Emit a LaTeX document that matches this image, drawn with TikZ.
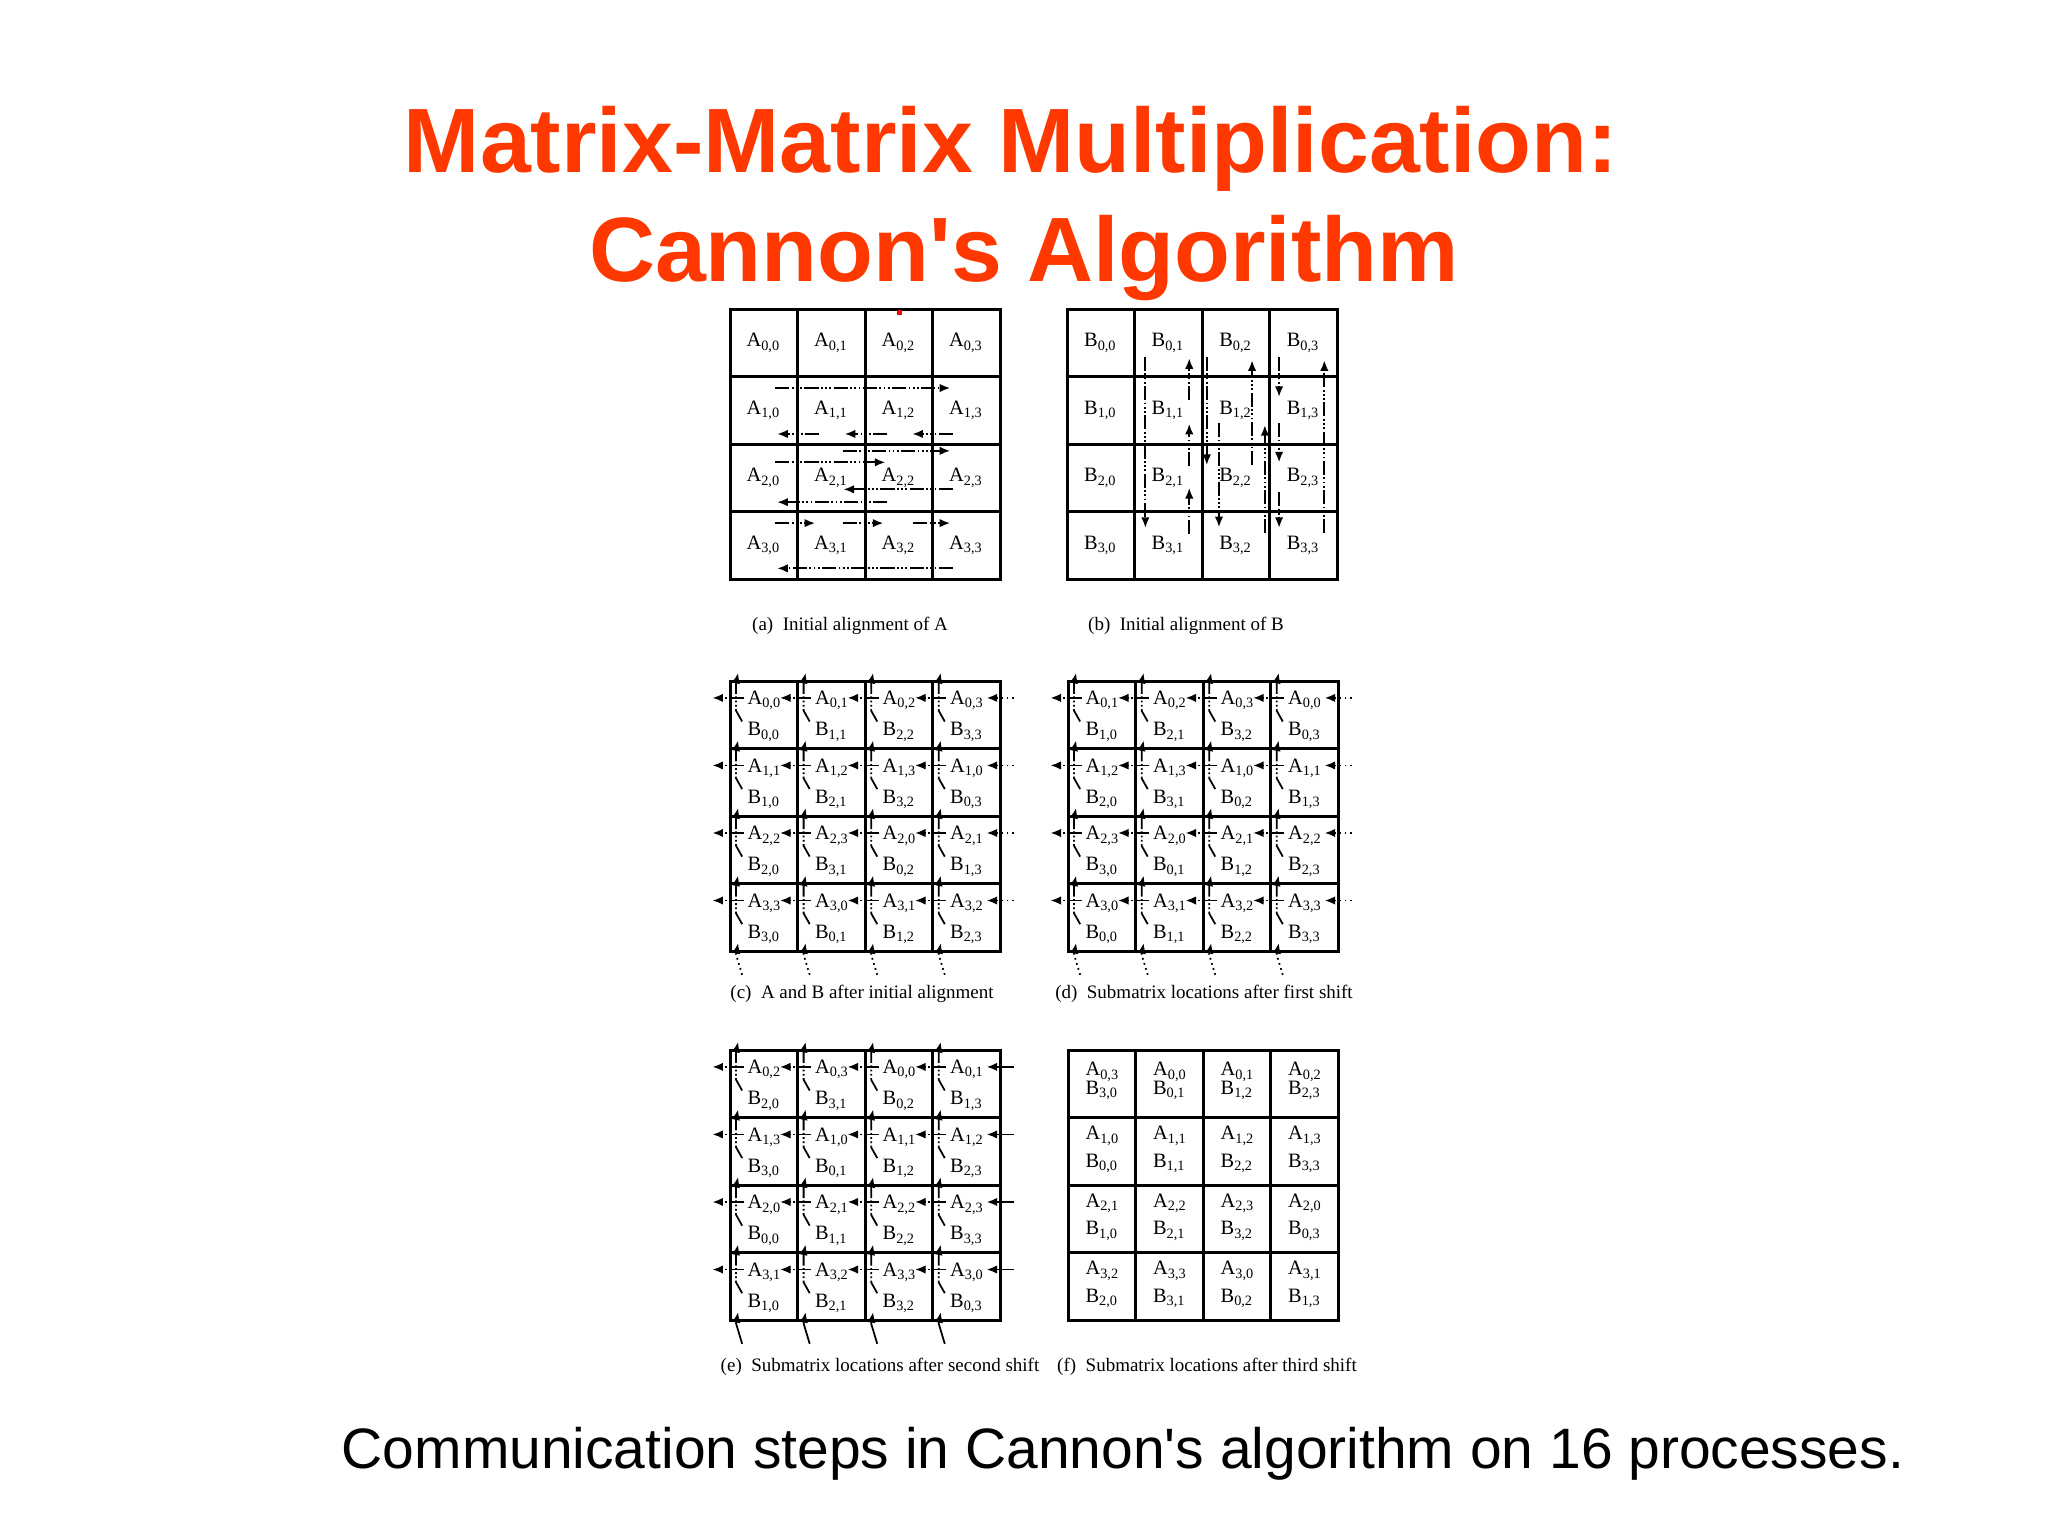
\documentclass[tikz,border=0pt]{standalone}
\usepackage{fontspec}
\setmainfont{Liberation Serif}
\newfontfamily\slidefont{Liberation Sans}
\usetikzlibrary{arrows.meta}

\definecolor{titlered}{RGB}{255,56,0}

\tikzset{
  >={Latex[length=3pt,width=2.4pt]},
  gridline/.style={line width=0.85pt},
  lbl/.style={inner sep=0pt, font=\fontsize{5.8}{7}\selectfont},
  subcap/.style={anchor=base, inner sep=0pt, font=\fontsize{5.4}{6.5}\selectfont},
  shiftarr/.style={->, line width=0.5pt, dash pattern=on 4pt off 0.7pt on 0.5pt off 0.7pt on 0.5pt off 0.7pt on 0.5pt off 0.7pt},
  wrapin/.style={->, line width=0.5pt, densely dotted},
  wrapsolid/.style={->, line width=0.5pt},
}

% 4x4 block grid, one cell = one unit
\newcommand{\blockgrid}{%
  \draw[gridline] (0,0) rectangle (4,4);
  \foreach \k in {1,2,3} {
    \draw[gridline] (\k,0) -- (\k,4);
    \draw[gridline] (0,\k) -- (4,\k);
  }}

% blocks of A and B after #2 shifts, with the next shift drawn
% #3 = style of the wrap-around lines
\newcommand{\shiftpanel}[3]{%
  \blockgrid
  \foreach \i in {0,...,3}
    \foreach \j in {0,...,3} {
      \pgfmathtruncatemacro\k{mod(\i+\j+#2,4)}
      \node[lbl, anchor=west] (#1-a-\i-\j) at (\j+0.25,\i+0.29) {A\textsubscript{\i,\k}};
      \node[lbl, anchor=west] (#1-b-\i-\j) at (\j+0.25,\i+0.75) {B\textsubscript{\k,\j}};
      \draw[shiftarr] (\j+0.2,\i+0.25) -- (\j-0.26,\i+0.25);
      \draw[shiftarr] (\j+0.18,\i+0.6) -- (\j+0.09,\i+0.44) -- (\j+0.09,\i+0.02) -- (\j+0.12,\i-0.12);
    }
  \foreach \k in {0,...,3} {
    \draw[#3] (4.2,\k+0.25) -- (3.8,\k+0.25);
    \draw[#3] (\k+0.18,4.35) -- (\k+0.09,4.05) -- (\k+0.12,3.88);
  }}

\begin{document}
\begin{tikzpicture}[x=0.01cm,y=-0.01cm]
  \useasboundingbox (0,0) rectangle (2048,1536);

  \node[anchor=base, text=titlered, font=\slidefont\bfseries\fontsize{26}{31}\selectfont] (title1) at (1011,172) {Matrix-Matrix Multiplication:};
  \node[anchor=base, text=titlered, font=\slidefont\bfseries\fontsize{26}{31}\selectfont] (title2) at (1024,281) {Cannon\textquotesingle s Algorithm};

  % (a) initial alignment of A
  \begin{scope}[shift={(730,309)},x=0.675cm,y=-0.675cm]
    \blockgrid
    \foreach \i in {0,...,3}
      \foreach \j in {0,...,3}
        \node[lbl] (a-\i-\j) at (\j+0.5,\i+0.5) {A\textsubscript{\i,\j}};
    \draw[shiftarr] (0.67,1.17) -- (3.26,1.17);
    \draw[shiftarr] (1.32,1.85) -- (0.70,1.85);
    \draw[shiftarr] (2.33,1.85) -- (1.70,1.85);
    \draw[shiftarr] (3.30,1.85) -- (2.70,1.85);
    \draw[shiftarr] (1.67,2.10) -- (3.26,2.10);
    \draw[shiftarr] (0.67,2.27) -- (2.30,2.27);
    \draw[shiftarr] (3.30,2.67) -- (1.68,2.67);
    \draw[shiftarr] (2.33,2.86) -- (0.70,2.86);
    \draw[shiftarr] (0.67,3.17) -- (1.26,3.17);
    \draw[shiftarr] (1.67,3.17) -- (2.27,3.17);
    \draw[shiftarr] (2.71,3.17) -- (3.26,3.17);
    \draw[shiftarr] (3.30,3.84) -- (0.70,3.84);
  \end{scope}
  \fill[red] (897,310) rectangle (902,315);

  % (b) initial alignment of B
  \begin{scope}[shift={(1067,309)},x=0.675cm,y=-0.675cm]
    \blockgrid
    \foreach \i in {0,...,3}
      \foreach \j in {0,...,3}
        \node[lbl] (b-\i-\j) at (\j+0.5,\i+0.5) {B\textsubscript{\i,\j}};
    \draw[shiftarr] (1.16,0.71) -- (1.16,3.24);
    \draw[shiftarr] (1.81,3.33) -- (1.81,2.65);
    \draw[shiftarr] (1.81,2.33) -- (1.81,1.70);
    \draw[shiftarr] (1.81,1.35) -- (1.81,0.73);
    \draw[shiftarr] (2.07,0.71) -- (2.07,2.31);
    \draw[shiftarr] (2.25,1.69) -- (2.25,3.23);
    \draw[shiftarr] (2.74,2.31) -- (2.74,0.76);
    \draw[shiftarr] (2.93,3.32) -- (2.93,1.72);
    \draw[shiftarr] (3.81,3.32) -- (3.81,0.76);
    \draw[shiftarr] (3.14,0.71) -- (3.14,1.30);
    \draw[shiftarr] (3.14,1.69) -- (3.14,2.27);
    \draw[shiftarr] (3.14,2.71) -- (3.14,3.24);
  \end{scope}

  % (c), (d), (e) shifts
  \begin{scope}[shift={(730,681)},x=0.675cm,y=-0.675cm]
    \shiftpanel{c}{0}{wrapin}
  \end{scope}
  \begin{scope}[shift={(1068,681)},x=0.675cm,y=-0.675cm]
    \shiftpanel{d}{1}{wrapin}
  \end{scope}
  \begin{scope}[shift={(730,1050)},x=0.675cm,y=-0.675cm]
    \shiftpanel{e}{2}{wrapsolid}
  \end{scope}

  % (f) after third shift
  \begin{scope}[shift={(1068,1050)},x=0.675cm,y=-0.675cm]
    \blockgrid
    \foreach \i in {0,...,3}
      \foreach \j in {0,...,3} {
        \pgfmathtruncatemacro\k{mod(\i+\j+3,4)}
        \pgfmathsetmacro\ya{\i==0 ? 0.32 : 0.27}
        \pgfmathsetmacro\yb{\i==0 ? 0.60 : 0.68}
        \node[lbl, anchor=west] (f-a-\i-\j) at (\j+0.25,\i+\ya) {A\textsubscript{\i,\k}};
        \node[lbl, anchor=west] (f-b-\i-\j) at (\j+0.25,\i+\yb) {B\textsubscript{\k,\j}};
      }
  \end{scope}

  \node[subcap] (cap-a) at (850,630) {(a)\enspace Initial alignment of A};
  \node[subcap] (cap-b) at (1186,630) {(b)\enspace Initial alignment of B};
  \node[subcap] (cap-c) at (862,998) {(c)\enspace A and B after initial alignment};
  \node[subcap] (cap-d) at (1204,998) {(d)\enspace Submatrix locations after first shift};
  \node[subcap] (cap-e) at (880,1371) {(e)\enspace Submatrix locations after second shift};
  \node[subcap] (cap-f) at (1207,1371) {(f)\enspace Submatrix locations after third shift};

  \node[anchor=base, font=\slidefont\fontsize{16.2}{19}\selectfont] (note) at (1123,1468) {Communication steps in Cannon\textquotesingle s algorithm on 16 processes.};
\end{tikzpicture}
\end{document}
